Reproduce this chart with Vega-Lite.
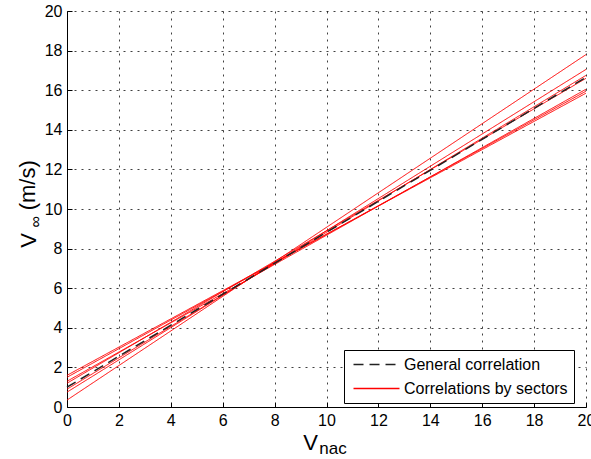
{
  "$schema": "https://vega.github.io/schema/vega-lite/v6.json",
  "width": 519,
  "height": 396,
  "autosize": {"type": "none"},
  "padding": {"left": 67, "top": 11, "right": 5, "bottom": 52},
  "background": "white",
  "config": {
    "font": "Liberation Sans",
    "view": {"stroke": null},
    "axis": {
      "domainColor": "#000000",
      "domainWidth": 1,
      "tickColor": "#000000",
      "tickSize": -5,
      "gridColor": "#000000",
      "gridDash": [2, 5],
      "gridOpacity": 0.75,
      "gridWidth": 1,
      "labelFontSize": 16,
      "labelColor": "#000000",
      "labelPadding": 10,
      "labelFlush": false,
      "labelOverlap": false,
      "titleFontSize": 22,
      "titleFontWeight": "normal",
      "titleColor": "#000000"
    },
    "legend": {
      "symbolType": "M-3,0H3",
      "symbolSize": 235,
      "symbolOffset": 18,
      "symbolStrokeWidth": 1.3,
      "labelOffset": 19,
      "labelFontSize": 16,
      "labelColor": "#000000",
      "labelLimit": 400,
      "strokeColor": "#000000",
      "fillColor": "#ffffff",
      "padding": 6,
      "rowPadding": 7
    }
  },
  "datasets": {
    "lines": [
      {"id": "r1", "type": "Correlations by sectors", "x": 0, "y": 1.6},
      {"id": "r1", "type": "Correlations by sectors", "x": 20, "y": 15.85},
      {"id": "r2", "type": "Correlations by sectors", "x": 0, "y": 1.5},
      {"id": "r2", "type": "Correlations by sectors", "x": 20, "y": 15.95},
      {"id": "r3", "type": "Correlations by sectors", "x": 0, "y": 1.3},
      {"id": "r3", "type": "Correlations by sectors", "x": 20, "y": 16.05},
      {"id": "r4", "type": "Correlations by sectors", "x": 0, "y": 1.2},
      {"id": "r4", "type": "Correlations by sectors", "x": 20, "y": 16.6},
      {"id": "r5", "type": "Correlations by sectors", "x": 0, "y": 0.9},
      {"id": "r5", "type": "Correlations by sectors", "x": 20, "y": 16.75},
      {"id": "r6", "type": "Correlations by sectors", "x": 0, "y": 0.75},
      {"id": "r6", "type": "Correlations by sectors", "x": 20, "y": 17.05},
      {"id": "r7", "type": "Correlations by sectors", "x": 0, "y": 0.35},
      {"id": "r7", "type": "Correlations by sectors", "x": 20, "y": 17.8},
      {"id": "g", "type": "General correlation", "x": 0, "y": 1.0},
      {"id": "g", "type": "General correlation", "x": 20, "y": 16.65}
    ]
  },
  "layer": [
    {
      "data": {"name": "lines"},
      "transform": [{"filter": "datum.type === 'Correlations by sectors'"}],
      "mark": {"type": "line", "strokeWidth": 1},
      "encoding": {
        "x": {"field": "x", "type": "quantitative", "scale": {"domain": [0, 20], "nice": false},
              "axis": {"values": [0, 2, 4, 6, 8, 10, 12, 14, 16, 18, 20], "title": "V", "titleX": 243, "titleY": 42, "titleAlign": "center", "titleBaseline": "alphabetic"}},
        "y": {"field": "y", "type": "quantitative", "scale": {"domain": [0, 20], "nice": false},
              "axis": {"values": [0, 2, 4, 6, 8, 10, 12, 14, 16, 18, 20], "title": "V", "titleX": -32, "titleY": 229, "titleAlign": "center", "titleBaseline": "alphabetic", "titleAngle": 270}},
        "color": {"field": "type", "type": "nominal",
                  "scale": {"domain": ["General correlation", "Correlations by sectors"], "range": ["#222222", "#ff0000"]},
                  "legend": {"title": null, "orient": "none", "legendX": 277, "legendY": 339}},
        "strokeDash": {"field": "type", "type": "nominal",
                       "scale": {"domain": ["General correlation", "Correlations by sectors"], "range": [[10, 6], [1, 0]]},
                       "legend": {"title": null, "orient": "none", "legendX": 277, "legendY": 339}},
        "detail": {"field": "id"}
      }
    },
    {
      "data": {"name": "lines"},
      "transform": [{"filter": "datum.type === 'General correlation'"}],
      "mark": {"type": "line", "strokeWidth": 1.5},
      "encoding": {
        "x": {"field": "x", "type": "quantitative", "axis": {"values": [0, 2, 4, 6, 8, 10, 12, 14, 16, 18, 20], "title": "V", "titleX": 243, "titleY": 42, "titleAlign": "center", "titleBaseline": "alphabetic"}},
        "y": {"field": "y", "type": "quantitative", "axis": {"values": [0, 2, 4, 6, 8, 10, 12, 14, 16, 18, 20], "title": "V", "titleX": -32, "titleY": 229, "titleAlign": "center", "titleBaseline": "alphabetic", "titleAngle": 270}},
        "color": {"field": "type", "type": "nominal"},
        "strokeDash": {"field": "type", "type": "nominal"},
        "detail": {"field": "id"}
      }
    },
    {
      "data": {"values": [{}]},
      "mark": {"type": "text", "text": "nac", "fontSize": 17, "align": "left", "baseline": "alphabetic", "color": "#000000", "font": "Liberation Sans"},
      "encoding": {
        "x": {"datum": 9.72, "type": "quantitative", "axis": {"values": [0, 2, 4, 6, 8, 10, 12, 14, 16, 18, 20], "title": "V", "titleX": 243, "titleY": 42, "titleAlign": "center", "titleBaseline": "alphabetic"}},
        "y": {"datum": -2.37, "type": "quantitative", "axis": {"values": [0, 2, 4, 6, 8, 10, 12, 14, 16, 18, 20], "title": "V", "titleX": -32, "titleY": 229, "titleAlign": "center", "titleBaseline": "alphabetic", "titleAngle": 270}}
      }
    },
    {
      "data": {"values": [{}]},
      "mark": {"type": "text", "text": "∞", "fontSize": 16, "angle": 270, "align": "center", "baseline": "alphabetic", "color": "#000000", "font": "Liberation Sans"},
      "encoding": {
        "x": {"datum": -1.0, "type": "quantitative", "axis": {"values": [0, 2, 4, 6, 8, 10, 12, 14, 16, 18, 20], "title": "V", "titleX": 243, "titleY": 42, "titleAlign": "center", "titleBaseline": "alphabetic"}},
        "y": {"datum": 9.35, "type": "quantitative", "axis": {"values": [0, 2, 4, 6, 8, 10, 12, 14, 16, 18, 20], "title": "V", "titleX": -32, "titleY": 229, "titleAlign": "center", "titleBaseline": "alphabetic", "titleAngle": 270}}
      }
    },
    {
      "data": {"values": [{}]},
      "mark": {"type": "text", "text": "(m/s)", "fontSize": 22, "angle": 270, "align": "center", "baseline": "alphabetic", "color": "#000000", "font": "Liberation Sans"},
      "encoding": {
        "x": {"datum": -1.23, "type": "quantitative", "axis": {"values": [0, 2, 4, 6, 8, 10, 12, 14, 16, 18, 20], "title": "V", "titleX": 243, "titleY": 42, "titleAlign": "center", "titleBaseline": "alphabetic"}},
        "y": {"datum": 11.2, "type": "quantitative", "axis": {"values": [0, 2, 4, 6, 8, 10, 12, 14, 16, 18, 20], "title": "V", "titleX": -32, "titleY": 229, "titleAlign": "center", "titleBaseline": "alphabetic", "titleAngle": 270}}
      }
    }
  ]
}
